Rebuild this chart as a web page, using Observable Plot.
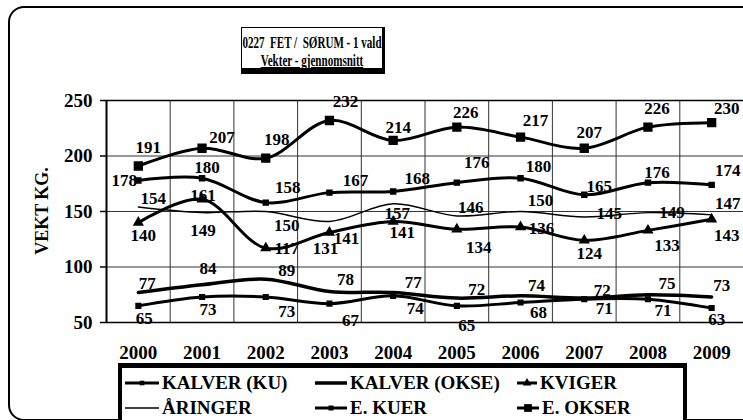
<!DOCTYPE html>
<html>
<head>
<meta charset="utf-8">
<script src="https://cdn.jsdelivr.net/npm/d3@7"></script>
<script src="https://cdn.jsdelivr.net/npm/@observablehq/plot@0.6"></script>
<style>
  html, body { margin: 0; padding: 0; background: #fff; }
  #wrap { position: relative; width: 743px; height: 420px; overflow: hidden; background: #fff;
          font-family: "Liberation Serif", "DejaVu Serif", serif; font-weight: bold; color: #000; }
  #chart { position: absolute; left: 0; top: 0; }
  #frame { position: absolute; left: 8px; top: 6px; width: 800px; height: 411px;
           border: 2.5px solid #000; border-radius: 16px; pointer-events: none; }
  #title { position: absolute; left: 241px; top: 27px; width: 140px; height: 40px; background: #fff;
           border-top: 1.5px solid #000; border-left: 1.5px solid #000; border-right: 3px solid #000;
           border-bottom: 6px solid #000; }
  #title div { position: absolute; left: 50%; white-space: nowrap; font-size: 17px; line-height: 17px;
               transform: translateX(-50%) scaleX(0.65); }
  #ylab { position: absolute; left: 42px; top: 211px; transform: translate(-50%, -50%) rotate(-90deg);
          font-size: 18px; white-space: nowrap; }
  #legend { position: absolute; left: 118px; top: 363px; width: 561px; height: 60px; background: #fff;
            border: 4px solid #000; border-top-width: 5px; }
  .item { position: absolute; display: flex; align-items: center; height: 22px; font-size: 19px; white-space: nowrap; }
  .item svg { display: block; margin-right: 3px; }
</style>
</head>
<body>
<div id="wrap">
  <div id="chart"></div>
  <div id="frame"></div>
  <div id="title">
    <div style="top:6px">0227&nbsp; FET / &nbsp;SØRUM - 1 vald</div>
    <div style="top:24px; text-decoration: underline;">Vekter - gjennomsnitt</div>
  </div>
  <div id="ylab">VEKT KG.</div>
  <div id="legend"></div>
</div>
<script>
// ---- data ----
const years = [2000, 2001, 2002, 2003, 2004, 2005, 2006, 2007, 2008, 2009];
const yTicks = [50, 100, 150, 200, 250];
const seriesNames = ["KALVER (KU)", "KALVER (OKSE)", "KVIGER", "ÅRINGER", "E. KUER", "E. OKSER"];
const kalverKu   = [65, 73, 73, 67, 74, 65, 68, 71, 71, 63];
const kalverOkse = [77, 84, 89, 78, 77, 72, 74, 72, 75, 73];
const kviger     = [140, 161, 117, 131, 141, 134, 136, 124, 133, 143];
const aringer    = [154, 149, 150, 141, 157, 146, 150, 145, 149, 147];
const eKuer      = [178, 180, 158, 167, 168, 176, 180, 165, 176, 174];
const eOkser     = [191, 207, 198, 232, 214, 226, 217, 207, 226, 230];
const seriesValues = [kalverKu, kalverOkse, kviger, aringer, eKuer, eOkser];

// ---- styles (not data) ----
const styles = [
  {width: 3,   symbol: "square",   r: 2.6},
  {width: 3.5, symbol: null,       r: 0},
  {width: 3,   symbol: "triangle", r: 3.2},
  {width: 1.4, symbol: null,       r: 0},
  {width: 3,   symbol: "square",   r: 2.8},
  {width: 3,   symbol: "square",   r: 4.4}
];
// label offsets in pixels, per series and point
const labelDx = [
  [6, 6, 21, 21, 22, 10, 18, 20, 15, 5],
  [9, 6, 21, 16, 20, 20, 16, 18, 19, 10],
  [5, 1, 21, -4, 9, 22, 21, 5, 19, 15],
  [15, 1, 21, 17, 4, 14, 20, 25, 24, 16],
  [-14, 5, 22, 26, 24, 20, 18, 15, 9, 16],
  [10, 20, 11, 16, 5, 9, 15, 5, 9, 15]
];
const labelDy = [
  [13, 13, 15, 17, 13, 20, 10, 9, 11, 11],
  [-9, -16, -9, -12, -10, -9, -10, -8, -11, -11],
  [13, -4, 0, 16, 11, 18, 2, 13, 15, 16],
  [-9, 18, 14, 17, 10, -8, -11, -4, 0, -11],
  [0, -11, -15, -12, -13, -20, -12, -8, -10, -14],
  [-18, -11, -19, -19, -13, -15, -17, -16, -19, -14]
];

const FONT = "'Liberation Serif', 'DejaVu Serif', serif";
const rows = seriesNames.map((name, s) => years.map((yr, i) => ({series: name, s, i, year: yr, value: seriesValues[s][i]})));
const gridX = years.map(y => y - 0.5).concat([years[years.length - 1] + 0.5]);

const marks = [
  Plot.ruleY(yTicks, {stroke: "#333", strokeWidth: 1}),
  Plot.ruleX(gridX, {y1: 50, y2: 250, stroke: "#333", strokeWidth: 1}),
  Plot.ruleX([gridX[0]], {y1: 50, y2: 250, stroke: "#000", strokeWidth: 2}),
  Plot.ruleY([50], {stroke: "#000", strokeWidth: 1.6}),
  Plot.ruleY([250], {stroke: "#000", strokeWidth: 1.3}),
  Plot.axisY({ticks: yTicks, tickSize: 6, tickPadding: 8, fontSize: 19, label: null, stroke: "#000", strokeWidth: 1.5}),
  Plot.axisX({ticks: years, tickSize: 0, tickPadding: 23, fontSize: 19, label: null, tickFormat: d => String(d)})
];
rows.forEach((data, s) => {
  const st = styles[s];
  marks.push(Plot.line(data, {x: "year", y: "value", curve: "catmull-rom", stroke: "#000", strokeWidth: st.width}));
  if (st.symbol) marks.push(Plot.dot(data, {x: "year", y: "value", symbol: st.symbol, r: st.r, fill: "#000", stroke: "#000"}));
});
rows.forEach((data, s) => {
  data.forEach((d, i) => {
    marks.push(Plot.text([d], {x: "year", y: "value", text: d => String(d.value), dx: labelDx[s][i], dy: labelDy[s][i],
      fontSize: 17, fontWeight: "bold", fill: "#000"}));
  });
});

const chart = Plot.plot({
  width: 743, height: 368,
  marginTop: 100, marginBottom: 46, marginLeft: 106, marginRight: 0,
  x: {domain: [gridX[0], gridX[gridX.length - 1]]},
  y: {domain: [50, 250]},
  style: {fontFamily: FONT, fontWeight: "bold", background: "transparent", color: "#000"},
  marks
});
document.getElementById("chart").appendChild(chart);

// ---- legend ----
const legendPos = [
  {x: 3, y: 4, w: 34}, {x: 193, y: 4, w: 32}, {x: 395, y: 4, w: 20},
  {x: 3, y: 29, w: 34}, {x: 193, y: 29, w: 32}, {x: 395, y: 29, w: 22}
];
const legend = document.getElementById("legend");
seriesNames.forEach((name, s) => {
  const p = legendPos[s], st = styles[s];
  const item = document.createElement("div");
  item.className = "item";
  item.style.left = p.x + "px";
  item.style.top = p.y + "px";
  const svg = d3.create("svg").attr("width", p.w).attr("height", 12);
  svg.append("line").attr("x1", 0).attr("x2", p.w).attr("y1", 6).attr("y2", 6).attr("stroke", "#000").attr("stroke-width", st.width);
  if (st.symbol) {
    const sym = st.symbol === "square" ? d3.symbolSquare : d3.symbolTriangle;
    svg.append("path").attr("d", d3.symbol(sym, st.r * st.r * Math.PI)()).attr("transform", `translate(${p.w / 2},6)`).attr("fill", "#000");
  }
  item.appendChild(svg.node());
  const t = document.createElement("span");
  t.textContent = name;
  item.appendChild(t);
  legend.appendChild(item);
});
</script>
</body>
</html>
